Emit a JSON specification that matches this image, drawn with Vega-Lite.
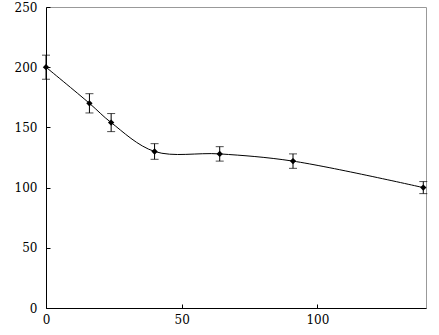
{
  "$schema": "https://vega.github.io/schema/vega-lite/v6.json",
  "autosize": "none",
  "width": 380,
  "height": 301,
  "padding": {"left": 46, "top": 7, "right": 13, "bottom": 27},
  "background": "white",
  "config": {
    "view": {"stroke": "#999999", "strokeWidth": 1},
    "axis": {
      "grid": false,
      "domainColor": "black",
      "domainWidth": 1,
      "tickColor": "black",
      "tickSize": -4,
      "labelFont": "DejaVu Serif",
      "labelFontSize": 12,
      "labelColor": "black",
      "title": null
    }
  },
  "data": {
    "values": [
      {"x": 0, "y": 200, "lo": 190, "hi": 210},
      {"x": 16, "y": 170, "lo": 162, "hi": 178},
      {"x": 24, "y": 154, "lo": 146.5, "hi": 161.5},
      {"x": 40, "y": 130, "lo": 123.5, "hi": 136.5},
      {"x": 64, "y": 128, "lo": 122, "hi": 134},
      {"x": 91, "y": 122, "lo": 116, "hi": 128},
      {"x": 139, "y": 100, "lo": 95, "hi": 105}
    ]
  },
  "encoding": {
    "x": {
      "field": "x", "type": "quantitative",
      "scale": {"domain": [0, 140], "nice": false, "zero": true},
      "axis": {"values": [0, 50, 100], "labelPadding": 10, "labelFlush": false}
    }
  },
  "layer": [
    {
      "mark": {"type": "line", "interpolate": "catmull-rom", "color": "black", "strokeWidth": 1},
      "encoding": {
        "y": {
          "field": "y", "type": "quantitative",
          "scale": {"domain": [0, 250], "nice": false},
          "axis": {"values": [0, 50, 100, 150, 200, 250], "labelPadding": 13}
        }
      }
    },
    {
      "mark": {"type": "rule", "color": "black", "strokeWidth": 1},
      "encoding": {
        "y": {"field": "lo", "type": "quantitative"},
        "y2": {"field": "hi"}
      }
    },
    {
      "mark": {"type": "tick", "orient": "horizontal", "color": "black", "size": 8, "thickness": 1},
      "encoding": {"y": {"field": "lo", "type": "quantitative"}}
    },
    {
      "mark": {"type": "tick", "orient": "horizontal", "color": "black", "size": 8, "thickness": 1},
      "encoding": {"y": {"field": "hi", "type": "quantitative"}}
    },
    {
      "mark": {"type": "point", "shape": "diamond", "filled": true, "color": "black", "size": 40, "opacity": 1},
      "encoding": {"y": {"field": "y", "type": "quantitative"}}
    }
  ]
}
